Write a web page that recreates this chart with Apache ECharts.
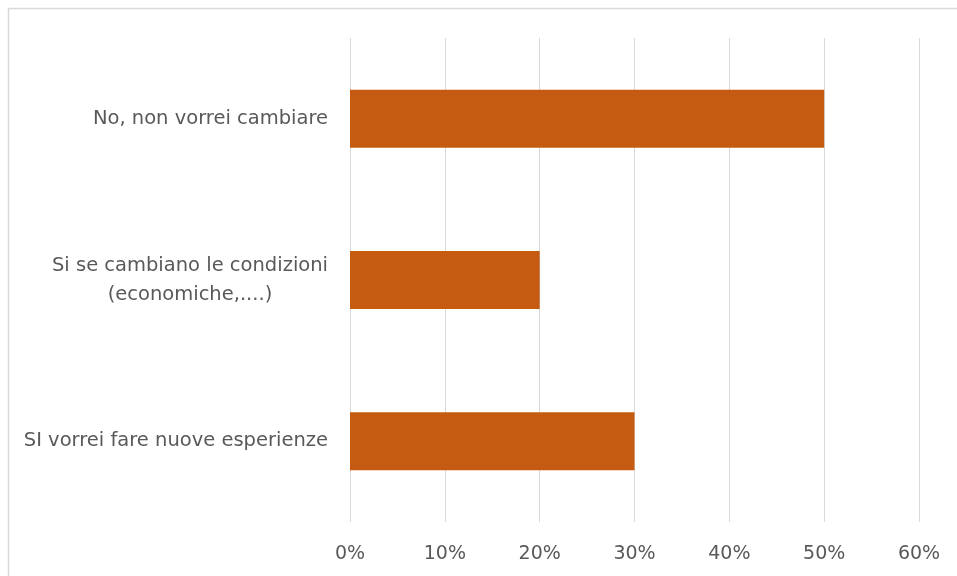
<!DOCTYPE html>
<html>
<head>
<meta charset="utf-8">
<script src="https://cdn.jsdelivr.net/npm/echarts@6/dist/echarts.min.js"></script>
<style>
html,body{margin:0;padding:0;background:#fff;}
#c{width:957px;height:576px;}
</style>
</head>
<body>
<div id="c"></div>
<script>
var categories = ["No, non vorrei cambiare", "Si se cambiano le condizioni\n(economiche,....)", "SI vorrei fare nuove esperienze"];
var values = [0.50, 0.20, 0.30];
var tickMin = 0;
var tickMax = 0.6;
var tickStep = 0.1;

var chart = echarts.init(document.getElementById('c'), null, {renderer: 'canvas'});
chart.setOption({
  backgroundColor: '#ffffff',
  animation: false,
  graphic: [{
    type: 'rect',
    left: 6, top: 6,
    shape: {x: 0, y: 0, width: 1000, height: 1000},
    style: {fill: 'none', stroke: '#D9D9D9', lineWidth: 1.5},
    silent: true
  }],
  grid: {left: 350, right: 38, top: 38, bottom: 54, containLabel: false},
  xAxis: {
    type: 'value',
    min: tickMin, max: tickMax, interval: tickStep,
    axisLine: {show: false},
    axisTick: {show: false},
    splitLine: {show: true, lineStyle: {color: '#D9D9D9', width: 1}},
    axisLabel: {
      color: '#595959', fontFamily: 'DejaVu Sans', fontSize: 19, margin: 23,
      formatter: function (v) { return Math.round(v * 100) + '%'; }
    }
  },
  yAxis: {
    type: 'category',
    inverse: true,
    data: categories,
    axisLine: {show: false},
    axisTick: {show: false},
    splitLine: {show: false},
    axisLabel: {
      color: '#595959', fontFamily: 'DejaVu Sans', fontSize: 19.5, margin: 22,
      align: 'right',
      formatter: function (v) {
        return v.split('\n').map(function (s) { return '{c|' + s + '}'; }).join('\n');
      },
      rich: {
        c: {align: 'center', color: '#595959', fontFamily: 'DejaVu Sans', fontSize: 19.5, lineHeight: 29}
      }
    }
  },
  series: [{
    type: 'bar',
    data: values,
    barCategoryGap: '64%',
    itemStyle: {color: '#C55A11'},
    silent: true
  }]
});
</script>
</body>
</html>
